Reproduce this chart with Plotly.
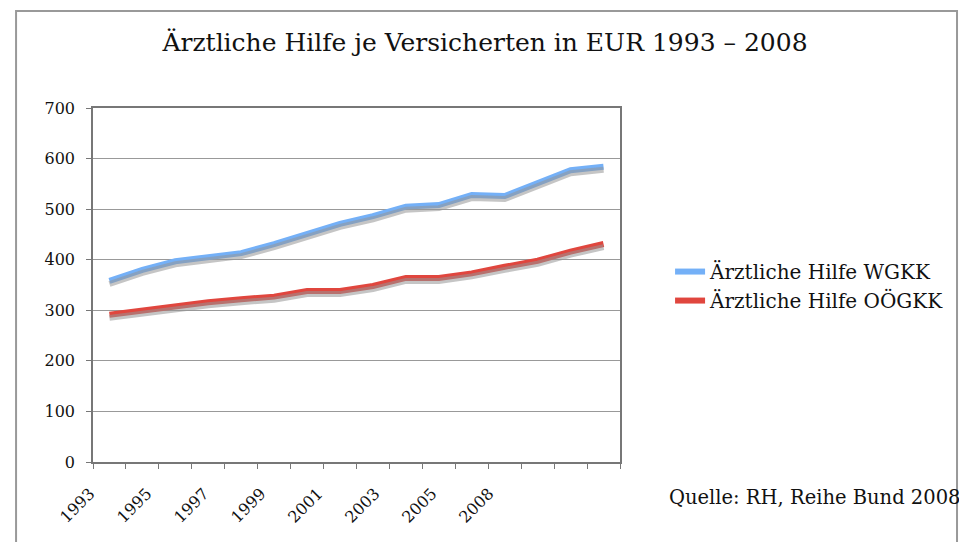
import plotly.graph_objects as go

years = [str(y) for y in range(1993, 2009)]
wgkk = [358, 380, 397, 405, 413, 431, 452, 471, 486, 505, 508, 528, 526, 550, 577, 584]
ooegkk = [291, 300, 307, 316, 322, 327, 338, 338, 348, 364, 364, 373, 386, 398, 416, 431]
tick_labels = ["1993", "1995", "1997", "1999", "2001", "2003", "2005", "2008"]
y_ticks = [0, 100, 200, 300, 400, 500, 600, 700]

name_w = "Ärztliche Hilfe WGKK"
name_o = "Ärztliche Hilfe OÖGKK"
blue = "#74B0F7"
red = "#E0463E"
shadow = "rgba(150,150,150,0.55)"
serif = "DejaVu Serif"

fig = go.Figure()
# shadows (same data drawn on a slightly shifted overlay axis)
for vals in (wgkk, ooegkk):
    fig.add_trace(go.Scatter(x=years, y=vals, mode="lines", yaxis="y2",
                             line=dict(color=shadow, width=6),
                             showlegend=False, hoverinfo="skip"))
fig.add_trace(go.Scatter(x=years, y=wgkk, mode="lines", name=name_w,
                         line=dict(color=blue, width=6)))
fig.add_trace(go.Scatter(x=years, y=ooegkk, mode="lines", name=name_o,
                         line=dict(color=red, width=6)))
# invisible trace carrying the label axis
fig.add_trace(go.Scatter(x=[1], y=[0], xaxis="x2", mode="markers",
                         marker=dict(opacity=0), showlegend=False, hoverinfo="skip"))

fig.update_layout(
    width=967, height=542,
    margin=dict(l=85, r=355, t=100, b=88),
    paper_bgcolor="white", plot_bgcolor="white",
    title=dict(text="Ärztliche Hilfe je Versicherten in EUR 1993 – 2008",
               x=477 / 967, xref="container", xanchor="center",
               y=1 - 34 / 542, yref="container", yanchor="middle",
               font=dict(family=serif, size=25, color="#111")),
    xaxis=dict(type="category", tickson="boundaries", ticks="outside", ticklen=5,
               tickcolor="#777", showticklabels=False, showgrid=False,
               showline=True, linecolor="#777", linewidth=1.5, mirror=True,
               range=[-0.5, 15.5]),
    xaxis2=dict(overlaying="x", anchor="y", side="bottom", range=[-0.0175, 9.228],
                tickvals=list(range(len(tick_labels))), ticktext=tick_labels,
                tickangle=-45, ticks="outside", ticklen=15, tickcolor="rgba(0,0,0,0)",
                ticklabelshift=-4,
                showgrid=False, zeroline=False, showline=False,
                tickfont=dict(family=serif, size=16, color="#111")),
    yaxis=dict(range=[0, 700], tickvals=y_ticks, ticks="outside", ticklen=5,
               tickcolor="#777", showgrid=True, gridcolor="#999", gridwidth=1,
               showline=True, linecolor="#777", linewidth=1.5, mirror=True,
               ticklabelstandoff=8,
               zeroline=False, tickfont=dict(family=serif, size=16, color="#111")),
    yaxis2=dict(overlaying="y", range=[6, 706], visible=False),
    legend=dict(x=1.095, y=0.497, xanchor="left", yanchor="middle",
                font=dict(family=serif, size=20, color="#111"),
                bgcolor="rgba(0,0,0,0)", tracegroupgap=0),
    showlegend=True,
)

fig.add_annotation(text="Quelle: RH, Reihe Bund 2008", xref="paper", yref="paper",
                   x=1.089, y=-0.099, xanchor="left", yanchor="middle",
                   showarrow=False, font=dict(family=serif, size=19.5, color="#111"))

fig.add_shape(type="rect", xref="paper", yref="paper",
              x0=-0.146, x1=1.6395, y0=-0.3, y1=1.274,
              line=dict(color="#999", width=2), fillcolor="rgba(0,0,0,0)", layer="below")

fig.write_html("out.html")
